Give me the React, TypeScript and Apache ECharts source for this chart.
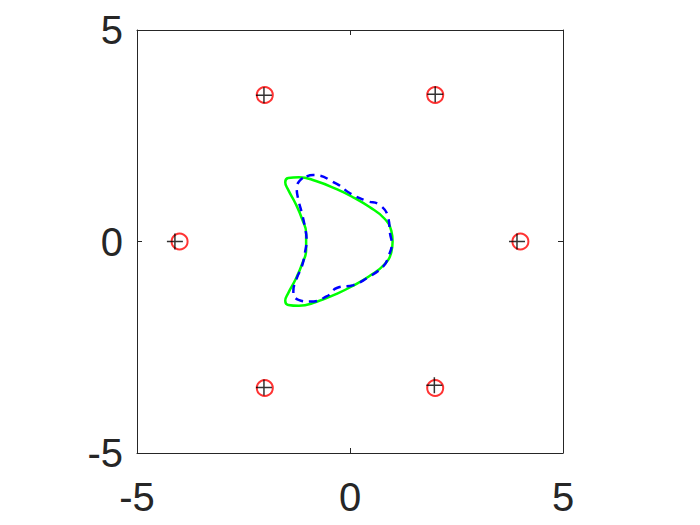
import React, { useEffect, useRef } from "react";
import * as echarts from "echarts";

const tickValues = [-5, 0, 5];

// red circles: true positions
const circleX = [-4, -2, 2, 4, 2, -2];
const circleY = [0, 3.464, 3.464, 0, -3.464, -3.464];

// black plus markers: estimates
const plusX = [-4.11, -2.02, 2.0, 3.92, 1.98, -2.02];
const plusY = [0, 3.46, 3.48, 0, -3.4, -3.45];

// green solid curve
const greenX = [1.0, 0.97, 0.8, 0.45, 0.1, -0.3, -0.8, -1.2, -1.45, -1.52, -1.45, -1.28, -1.12, -1.03, -1.03,
  -1.03, -1.12, -1.28, -1.45, -1.52, -1.45, -1.2, -0.8, -0.3, 0.1, 0.45, 0.8, 0.97, 1.0];
const greenY = [0.0, 0.25, 0.55, 0.82, 1.03, 1.23, 1.43, 1.52, 1.5, 1.4, 1.22, 0.9, 0.52, 0.2, 0.0,
  -0.2, -0.52, -0.9, -1.22, -1.4, -1.5, -1.52, -1.43, -1.23, -1.03, -0.82, -0.55, -0.25, 0.0];

// blue dashed curve
const blueX = [-1.02, -0.86, -0.31, 0.0, 0.39, 0.7, 0.9, 0.94, 0.98, 0.9, 0.78, 0.39, 0.08, -0.31, -0.55, -0.94,
  -1.21, -1.33, -1.25, -1.13, -1.06, -1.02, -1.06, -1.13, -1.21, -1.25, -1.17, -1.02];
const blueY = [1.54, 1.57, 1.36, 1.14, 0.96, 0.86, 0.55, 0.19, -0.04, -0.36, -0.59, -0.87, -1.03, -1.1, -1.3, -1.42,
  -1.38, -1.18, -0.87, -0.59, -0.28, 0.04, 0.35, 0.67, 0.98, 1.25, 1.45, 1.54];

const zip = (a: number[], b: number[]) => a.map((v, i) => [v, b[i]]);

export default function App() {
  const ref = useRef<HTMLDivElement>(null);
  useEffect(() => {
    if (!ref.current) return;
    const chart = echarts.init(ref.current, undefined, { renderer: "svg" });
    const labelStyle = {
      color: "#262626",
      fontSize: 40,
      fontFamily: "Liberation Sans, Arial, sans-serif",
    };
    const baseAxis = {
      type: "value" as const,
      min: tickValues[0],
      max: tickValues[tickValues.length - 1],
      interval: 5,
      splitLine: { show: false },
      axisLine: { show: true, onZero: false, lineStyle: { color: "#262626", width: 1 } },
      axisTick: { show: true, inside: true, length: 5, lineStyle: { color: "#262626", width: 1 } },
    };
    chart.setOption({
      animation: false,
      backgroundColor: "#ffffff",
      grid: { left: 137, top: 30, width: 426, height: 423, containLabel: false },
      xAxis: [
        {
          ...baseAxis,
          position: "bottom",
          axisLabel: { ...labelStyle, margin: 24, lineHeight: 40, formatter: (v: number) => String(v) },
        },
        { ...baseAxis, position: "top", axisLabel: { show: false } },
      ],
      yAxis: [
        {
          ...baseAxis,
          position: "left",
          axisLabel: { ...labelStyle, margin: 14, formatter: (v: number) => String(v) },
        },
        { ...baseAxis, position: "right", axisLabel: { show: false } },
      ],
      series: [
        {
          type: "line",
          data: zip(greenX, greenY),
          showSymbol: false,
          smooth: 0.5,
          lineStyle: { color: "#00ff00", width: 2.5 },
          z: 3,
        },
        {
          type: "line",
          data: zip(blueX, blueY),
          showSymbol: false,
          smooth: 0.5,
          lineStyle: { color: "#0000ff", width: 2.5, type: [8, 6] },
          z: 4,
        },
        {
          type: "scatter",
          data: zip(circleX, circleY),
          symbol: "circle",
          symbolSize: 16,
          itemStyle: { color: "rgba(0,0,0,0)", borderColor: "#ff0000", borderWidth: 2 },
          z: 5,
        },
        {
          type: "scatter",
          data: zip(plusX, plusY),
          symbol: "path://M10,0 L10,20 M0,10 L20,10",
          symbolSize: 16,
          itemStyle: { color: "rgba(0,0,0,0)", borderColor: "#000000", borderWidth: 1.5 },
          z: 6,
        },
      ],
    });
    return () => chart.dispose();
  }, []);
  return <div ref={ref} style={{ position: "fixed", left: 0, top: 0, width: 700, height: 525 }} />;
}
